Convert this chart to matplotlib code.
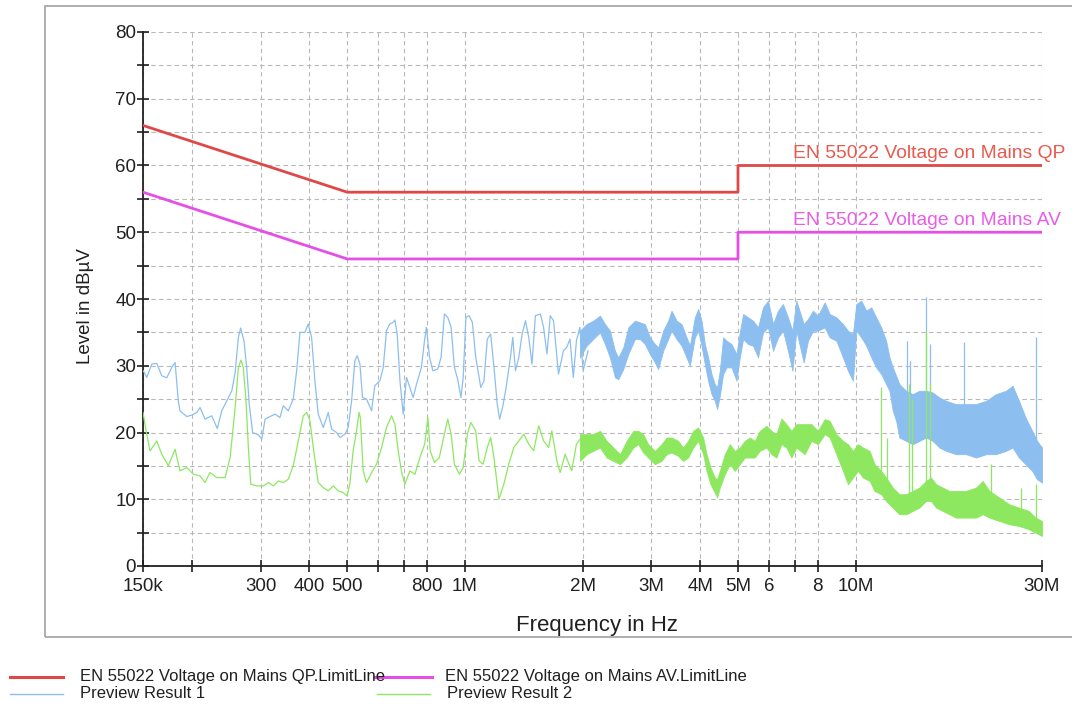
import numpy as np
import matplotlib
matplotlib.use("Agg")
import matplotlib.pyplot as plt
from matplotlib.patches import Rectangle
from matplotlib.lines import Line2D

plt.rcParams["font.family"] = ["Liberation Sans", "DejaVu Sans"]

# ---------------------------------------------------------------------------
# data
# ---------------------------------------------------------------------------
limit_freq = [150e3, 500e3, 500e3, 5e6, 5e6, 30e6]
qp_limit = [66, 56, 56, 56, 60, 60]
av_limit = [56, 46, 46, 46, 50, 50]

# Preview Result 1, thin trace below ~2 MHz (kHz, dBuV)
blue_line_khz = [150.3, 153.3, 158.0, 162.7, 167.5, 172.6, 177.7, 181.2, 184.7, 186.5,
                 194.1, 199.9, 205.9, 209.9, 216.2, 224.9, 232.4, 238.6, 245.8, 253.2,
                 258.2, 263.2, 266.7, 272.0, 276.3, 280.6, 286.2, 296.1, 302.1, 308.0,
                 317.2, 326.7, 336.2, 342.9, 353.1, 363.6, 371.0, 378.2, 389.5, 397.2,
                 405.2, 413.1, 421.3, 433.9, 446.9, 455.9, 469.5, 478.7, 493.0, 502.7,
                 512.9, 522.9, 530.1, 538.6, 547, 560, 577, 588, 606, 618,
                 630, 642, 655, 662, 671, 682, 695, 709, 723, 737,
                 752, 774, 789, 797, 812, 828, 852, 869, 886, 904,
                 922, 940, 958, 977, 990, 1006, 1025, 1045, 1066, 1098,
                 1119, 1141, 1164, 1187, 1210, 1227, 1251, 1275, 1308, 1326,
                 1347, 1374, 1401, 1429, 1457, 1485, 1515, 1560, 1590, 1622,
                 1654, 1686, 1736, 1787, 1822, 1858, 1894, 1930, 1969, 2007, 2067]
blue_line_db = [29.25, 28.25, 30.25, 30.35, 28.5, 28.2, 29.75, 30.5, 24.75, 23.25,
                22.4, 22.6, 23.0, 23.75, 22.0, 22.5, 20.6, 23.25, 24.75, 26.25,
                29.0, 34.25, 35.65, 33.75, 29.75, 24.25, 20.0, 19.65, 19.0, 22.0,
                22.4, 22.75, 22.25, 24.0, 23.25, 25.0, 29.25, 35.0, 35.0, 36.25,
                34.25, 27.75, 22.75, 20.75, 23.0, 20.5, 20.0, 19.25, 19.75, 20.75,
                24.75, 30.75, 31.5, 30.25, 25.25, 25.0, 23.25, 27.0, 27.75, 29.75,
                35.25, 36.25, 36.5, 36.85, 34.75, 27.75, 22.75, 28.25, 26.75, 25.25,
                27.25, 29.75, 34.0, 35.75, 31.25, 29.25, 29.5, 31.25, 37.75, 37.25,
                35.75, 29.75, 28.0, 25.25, 28.25, 37.25, 37.5, 36.5, 31.25, 26.75,
                27.75, 34.0, 34.75, 29.75, 24.25, 22.0, 24.0, 26.75, 31.25, 34.25,
                29.25, 31.25, 34.75, 36.75, 34.25, 30.25, 37.5, 37.75, 35.75, 31.75,
                37.5, 36.75, 28.75, 32.25, 32.75, 34.0, 28.25, 33.75, 35.75, 29.25, 32.25]

# Preview Result 2, thin trace below ~2 MHz (kHz, dBuV)
green_line_khz = [150.0, 153.3, 156.4, 162.7, 167.5, 174.2, 181.2, 186.5, 194.1, 201.9,
                  209.9, 216.2, 222.6, 231.6, 243.4, 250.7, 258.2, 263.2, 267.2, 270.9,
                  275.3, 279.1, 283.1, 293.3, 305.0, 314.2, 323.6, 333.2, 342.9, 353.1,
                  363.6, 374.6, 385.8, 393.6, 401.3, 409.2, 421.3, 433.9, 446.9, 460.2,
                  474.0, 488.1, 499.4, 507.4, 517.5, 528.0, 536.1, 540.0, 549, 560,
                  577, 594, 612, 630, 649, 662, 675, 689, 702, 723,
                  745, 767, 789, 804, 815, 836, 860, 886, 904, 922,
                  940, 968, 990, 1015, 1035, 1066, 1087, 1113, 1141, 1164,
                  1187, 1222, 1258, 1295, 1334, 1374, 1415, 1457, 1500, 1545,
                  1590, 1638, 1669, 1719, 1753, 1805, 1876, 1930, 1987, 2067]
green_line_db = [23.0, 19.75, 17.25, 18.75, 16.75, 15.0, 17.5, 14.25, 14.75, 13.75,
                 13.5, 12.5, 14.0, 13.25, 13.25, 16.25, 23.75, 29.75, 30.85, 29.75,
                 24.75, 17.75, 12.25, 12.0, 12.0, 12.5, 12.0, 12.75, 12.5, 13.0,
                 15.0, 18.75, 22.5, 23.0, 21.75, 17.75, 12.5, 11.75, 11.25, 12.0,
                 11.25, 11.0, 10.5, 12.25, 17.25, 20.25, 23.0, 22.25, 14.25, 12.5,
                 14.0, 15.25, 17.75, 20.75, 22.5, 21.25, 17.25, 14.0, 12.25, 14.25,
                 13.75, 16.25, 18.25, 22.25, 17.25, 15.5, 16.25, 19.75, 22.0, 19.75,
                 15.25, 13.75, 14.75, 19.75, 21.5, 20.25, 15.75, 15.25, 17.75, 19.25,
                 16.25, 10.0, 12.25, 15.25, 17.75, 18.75, 19.75, 18.25, 17.25, 21.0,
                 18.75, 17.75, 20.25, 15.75, 14.0, 16.75, 14.25, 18.25, 19.25, 19.25]

# Preview Result 1, dense part above ~2 MHz: envelope (MHz, low dB, high dB)
blue_band_mhz = [1.970, 2.049, 2.130, 2.217, 2.283, 2.351, 2.421, 2.469, 2.543, 2.619,
                 2.724, 2.805, 2.889, 2.975, 3.064, 3.124, 3.217, 3.313, 3.380, 3.481,
                 3.585, 3.692, 3.765, 3.877, 3.954, 4.034, 4.112, 4.193, 4.278, 4.361,
                 4.421, 4.492, 4.581, 4.673, 4.813, 4.956, 5.053, 5.153, 5.306, 5.464,
                 5.627, 5.795, 5.968, 6.147, 6.330, 6.518, 6.713, 6.890, 7.053, 7.364,
                 7.552, 7.778, 8.010, 8.334, 8.583, 8.928, 9.282, 9.560, 9.846, 10.04,
                 10.34, 10.65, 10.97, 11.29, 11.63, 11.97, 12.21, 12.45, 12.70, 12.94,
                 13.47, 14.00, 14.56, 15.15, 15.75, 16.38, 17.04, 18.08, 19.18, 20.34,
                 21.58, 22.88, 24.26, 25.22, 26.19, 27.23, 28.31, 29.14, 30.0]
blue_band_lo = [31.25, 33.0, 34.0, 35.0, 33.25, 31.25, 28.25, 28.0, 29.5, 31.75,
                34.0, 34.0, 33.25, 31.75, 30.5, 29.5, 32.25, 34.0, 35.25, 34.0,
                33.0, 31.25, 30.0, 34.25, 35.25, 33.0, 30.25, 27.75, 25.75, 24.75,
                23.5, 25.5, 28.75, 29.75, 29.75, 27.75, 31.25, 34.0, 33.25, 33.0,
                31.25, 35.0, 35.75, 32.25, 34.25, 35.25, 32.25, 29.25, 35.25, 30.5,
                33.75, 35.25, 35.25, 35.75, 34.25, 33.75, 31.25, 29.25, 27.75, 35.25,
                34.25, 33.0, 31.25, 29.75, 28.75, 27.25, 26.25, 23.25, 21.75, 19.25,
                18.75, 18.25, 18.75, 19.25, 18.75, 17.75, 17.25, 16.75, 16.75, 16.25,
                16.75, 16.75, 17.25, 17.75, 16.25, 15.25, 14.25, 13.0, 12.5]
blue_band_hi = [35.25, 36.25, 36.75, 37.5, 36.25, 35.25, 32.25, 31.25, 32.75, 35.75,
                36.75, 36.5, 36.25, 34.25, 33.25, 32.75, 35.25, 36.75, 38.25, 36.75,
                36.25, 34.25, 33.0, 37.25, 38.5, 36.75, 33.25, 31.25, 28.75, 27.25,
                26.75, 29.25, 34.25, 33.75, 33.25, 31.75, 35.0, 37.75, 37.25, 36.75,
                35.75, 38.75, 39.75, 36.25, 38.25, 39.25, 37.25, 35.25, 39.75, 36.25,
                37.0, 38.25, 37.5, 39.5, 37.75, 37.25, 36.25, 35.25, 34.75, 39.25,
                39.75, 38.25, 38.75, 37.25, 35.75, 33.75, 31.25, 29.75, 28.5, 27.25,
                26.25, 25.75, 26.25, 26.25, 26.0, 25.25, 24.75, 24.25, 24.25, 24.25,
                24.75, 25.75, 26.25, 27.0, 24.75, 22.25, 20.25, 18.75, 17.75]

# Preview Result 2, dense part above ~2 MHz
green_band_mhz = [1.970, 2.049, 2.130, 2.217, 2.306, 2.397, 2.494, 2.594, 2.697, 2.777,
                  2.860, 2.945, 3.064, 3.187, 3.282, 3.380, 3.514, 3.619, 3.727, 3.839,
                  3.954, 4.072, 4.154, 4.252, 4.361, 4.421, 4.492, 4.626, 4.764, 4.906,
                  5.053, 5.204, 5.359, 5.519, 5.684, 5.912, 6.089, 6.271, 6.457, 6.650,
                  6.849, 7.053, 7.408, 7.705, 8.010, 8.334, 8.583, 8.928, 9.282, 9.560,
                  9.846, 10.14, 10.44, 10.86, 11.18, 11.63, 11.97, 12.45, 12.94, 13.47,
                  14.00, 14.56, 15.15, 15.60, 16.07, 16.71, 17.38, 18.08, 19.18, 20.34,
                  21.15, 22.00, 23.34, 24.74, 26.19, 27.77, 28.86, 30.0]
green_band_lo = [15.75, 16.75, 17.25, 17.75, 16.25, 15.75, 15.25, 16.25, 17.75, 18.25,
                 17.0, 16.25, 15.25, 15.75, 16.75, 17.0, 16.5, 15.75, 16.25, 17.75,
                 18.75, 16.75, 14.25, 12.25, 11.0, 10.25, 11.75, 13.75, 15.25, 14.25,
                 15.25, 16.25, 16.25, 16.25, 17.25, 17.75, 16.75, 16.25, 18.25, 17.75,
                 16.25, 17.75, 16.75, 18.75, 18.25, 19.75, 19.25, 16.75, 14.25, 12.25,
                 13.25, 14.25, 13.25, 12.75, 11.25, 10.75, 9.75, 8.75, 7.75, 7.75,
                 8.25, 8.75, 9.75, 9.75, 8.75, 8.25, 7.75, 7.25, 7.25, 7.25,
                 7.75, 7.25, 6.75, 6.25, 6.0, 5.5, 5.0, 4.5]
green_band_hi = [19.75, 19.75, 19.75, 20.25, 18.75, 17.75, 16.75, 18.75, 20.25, 20.25,
                 19.75, 18.25, 17.25, 18.25, 19.25, 19.25, 18.75, 17.75, 18.75, 20.25,
                 20.75, 19.25, 16.75, 14.75, 13.25, 13.0, 14.25, 16.75, 18.25, 17.25,
                 17.75, 18.75, 19.25, 18.75, 20.25, 21.0, 20.25, 19.75, 22.1, 21.25,
                 20.25, 21.25, 21.25, 21.25, 20.25, 22.0, 21.75, 19.75, 18.75, 18.25,
                 17.25, 18.25, 17.75, 17.25, 15.25, 14.25, 13.25, 11.75, 10.75, 10.75,
                 11.25, 11.75, 12.75, 13.25, 12.25, 11.75, 11.25, 11.25, 11.25, 11.75,
                 12.75, 11.25, 10.25, 9.25, 8.75, 8.25, 7.25, 6.75]

# single-frequency spikes (MHz, peak dB)
blue_spike_mhz = [13.51, 13.78, 15.15, 15.51, 18.91, 28.97]
blue_spike_db = [33.75, 30.75, 40.25, 33.25, 33.5, 34.25]
green_spike_mhz = [11.63, 12.02, 13.73, 13.95, 15.15, 15.51, 22.22, 26.45, 28.97]
green_spike_db = [26.75, 19.25, 27.25, 25.0, 35.25, 27.25, 15.25, 11.75, 12.25]

tick_freqs = [150e3, 200e3, 300e3, 400e3, 500e3, 600e3, 700e3, 800e3, 1e6,
              2e6, 3e6, 4e6, 5e6, 6e6, 7e6, 8e6, 10e6, 30e6]
tick_labels = ["150k", "", "300", "400", "500", "", "", "800", "1M",
               "2M", "3M", "4M", "5M", "6", "", "8", "10M", "30M"]

# ---------------------------------------------------------------------------
QP_COLOR = "#e04848"
AV_COLOR = "#e64fe6"
BLUE = "#8cbfef"
GREEN = "#8de860"

W, H = 1072, 706
fig = plt.figure(figsize=(W / 100, H / 100), dpi=100)
ax = fig.add_axes([143 / W, 1 - 566 / H, (1042 - 143) / W, (566 - 32) / H])

# traces
blue_f = np.array(blue_line_khz) * 1e3
green_f = np.array(green_line_khz) * 1e3
bb_f = np.array(blue_band_mhz) * 1e6
gb_f = np.array(green_band_mhz) * 1e6

p1, = ax.plot(blue_f, blue_line_db, color=BLUE, lw=0.9, zorder=3)
ax.fill_between(bb_f, blue_band_lo, blue_band_hi, color=BLUE, lw=0.6, zorder=3)
bs_f = np.array(blue_spike_mhz) * 1e6
ax.vlines(bs_f, np.interp(bs_f, bb_f, blue_band_lo), blue_spike_db, color=BLUE, lw=0.9, zorder=3)

p2, = ax.plot(green_f, green_line_db, color=GREEN, lw=0.9, zorder=4)
ax.fill_between(gb_f, green_band_lo, green_band_hi, color=GREEN, lw=0.6, zorder=4)
gs_f = np.array(green_spike_mhz) * 1e6
ax.vlines(gs_f, np.interp(gs_f, gb_f, green_band_lo), green_spike_db, color=GREEN, lw=0.9, zorder=4)

# limit lines
qp, = ax.plot(limit_freq, qp_limit, color=QP_COLOR, lw=2.0, zorder=5)
av, = ax.plot(limit_freq, av_limit, color=AV_COLOR, lw=2.0, zorder=5)
ax.text(6.9e6, 60.5, "EN 55022 Voltage on Mains QP", color="#e8594f",
        fontsize=13.9, ha="left", va="bottom", zorder=6)
ax.text(6.9e6, 50.5, "EN 55022 Voltage on Mains AV", color="#e85ce8",
        fontsize=13.9, ha="left", va="bottom", zorder=6)

# axes
ax.set_xscale("log")
ax.set_xlim(150e3, 30e6)
ax.set_ylim(0, 80)
ax.set_xticks(tick_freqs)
ax.set_xticklabels(tick_labels)
ax.xaxis.set_minor_locator(matplotlib.ticker.NullLocator())
ax.set_yticks(np.arange(0, 81, 10))
ax.set_yticks(np.arange(5, 80, 10), minor=True)

ax.grid(True, which="both", axis="y", color="#b8b8b8", lw=0.8, linestyle=(0, (4, 3)))
ax.grid(True, which="major", axis="x", color="#b8b8b8", lw=0.8, linestyle=(0, (4, 3)))
ax.set_axisbelow(True)

for side in ("top", "right"):
    ax.spines[side].set_visible(False)
for side in ("left", "bottom"):
    ax.spines[side].set_linewidth(1.3)
    ax.spines[side].set_color("#202020")

ax.tick_params(axis="x", which="major", direction="inout", length=9, width=1.2,
               pad=4, labelsize=13.5, colors="#202020")
ax.tick_params(axis="y", which="both", direction="inout", length=8, width=1.2,
               pad=1, labelsize=13.5, colors="#202020")

fig.text(86 / W, 1 - 306 / H, "Level in dBµV", rotation=90, ha="center", va="center",
         fontsize=13.5, color="#202020")
fig.text(597 / W, 1 - 625 / H, "Frequency in Hz", ha="center", va="center",
         fontsize=16, color="#202020")

# outer frame
fig.add_artist(Rectangle((45 / W, 1 - 637 / H), (1090 - 45) / W, (637 - 6) / H,
                         transform=fig.transFigure, fill=False,
                         edgecolor="#a8a8a8", lw=1.3))

# legend below the frame
legend_rows = [
    (10, 63, 677, qp, "EN 55022 Voltage on Mains QP.LimitLine", 2.2),
    (375, 432, 677, av, "EN 55022 Voltage on Mains AV.LimitLine", 2.2),
    (10, 63, 694, p1, "Preview Result 1", 1.0),
    (377, 430, 694, p2, "Preview Result 2", 1.0),
]
for x0, x1, y, handle, label, lw in legend_rows:
    fig.add_artist(Line2D([x0 / W, x1 / W], [1 - y / H, 1 - y / H],
                          transform=fig.transFigure, color=handle.get_color(), lw=lw))
    fig.text((x0 + 70) / W, 1 - y / H, label, ha="left", va="center",
             fontsize=12, color="#202020")

fig.savefig("out.png", dpi=100)
